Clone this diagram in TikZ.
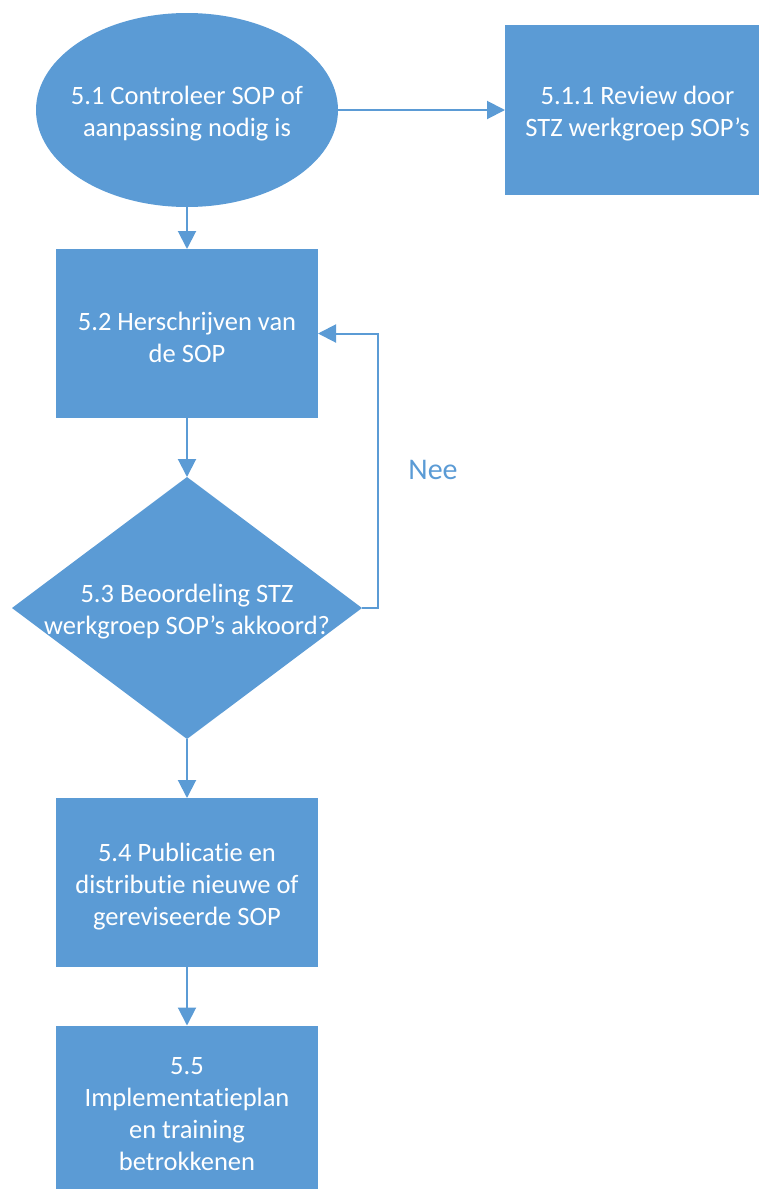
\documentclass[tikz,border=0pt]{standalone}
\usepackage{fontspec}
\setmainfont{Carlito}[Ligatures={NoCommon}]
\usetikzlibrary{arrows.meta,shapes.geometric}
\definecolor{ofblue}{HTML}{5B9BD5}
\begin{document}
\begin{tikzpicture}[x=1pt,y=-1pt,
  every node/.style={font=\fontsize{26.5}{32}\selectfont},
  shapefill/.style={fill=ofblue,draw=none,inner sep=0pt,outer sep=0pt},
  boxnode/.style={shapefill,rectangle,minimum width=262pt,minimum height=169pt},
  conn/.style={draw=ofblue,line width=2pt,-{Triangle[width=18pt,length=18pt]}},
  wlabel/.style={text=white,align=center,yshift=-4pt,font=\fontsize{26.5}{32}\selectfont},
  txt/.style={label={[wlabel]center:#1}}]
\useasboundingbox (0,0) rectangle (758,1189);
\node[shapefill,ellipse,minimum width=302pt,minimum height=194pt,
  txt={5.1 Controleer SOP of\\aanpassing nodig is}] (e) at (187,110) {};
\node[boxnode,minimum width=265pt,minimum height=170pt,
  txt={5.1.1 Review door\\STZ werkgroep SOP’s}] (r) at (637.5,110) {};
\node[boxnode,txt={5.2 Herschrijven van\\de SOP}] (b2) at (187,333.5) {};
\node[shapefill,diamond,minimum width=350pt,minimum height=262pt,
  txt={5.3 Beoordeling STZ\\werkgroep SOP’s akkoord?}] (d) at (187,608) {};
\node[boxnode,txt={5.4 Publicatie en\\distributie nieuwe of\\gereviseerde SOP}] (b4) at (187,882.5) {};
\node[boxnode,txt={5.5\\Implementatieplan\\en training\\betrokkenen}] (b5) at (187,1110) {};
\node[text=ofblue,font=\fontsize{30}{36}\selectfont] (nee) at (433,470) {Nee};
\draw[conn] (e.east) -- (r.west);
\draw[conn] (e.south) -- (b2.north);
\draw[conn] (b2.south) -- (d.north);
\draw[conn] (d.east) -- ++(16,0) |- (b2.east);
\draw[conn] (d.south) -- (b4.north);
\draw[conn] (b4.south) -- (b5.north);
\end{tikzpicture}
\end{document}
